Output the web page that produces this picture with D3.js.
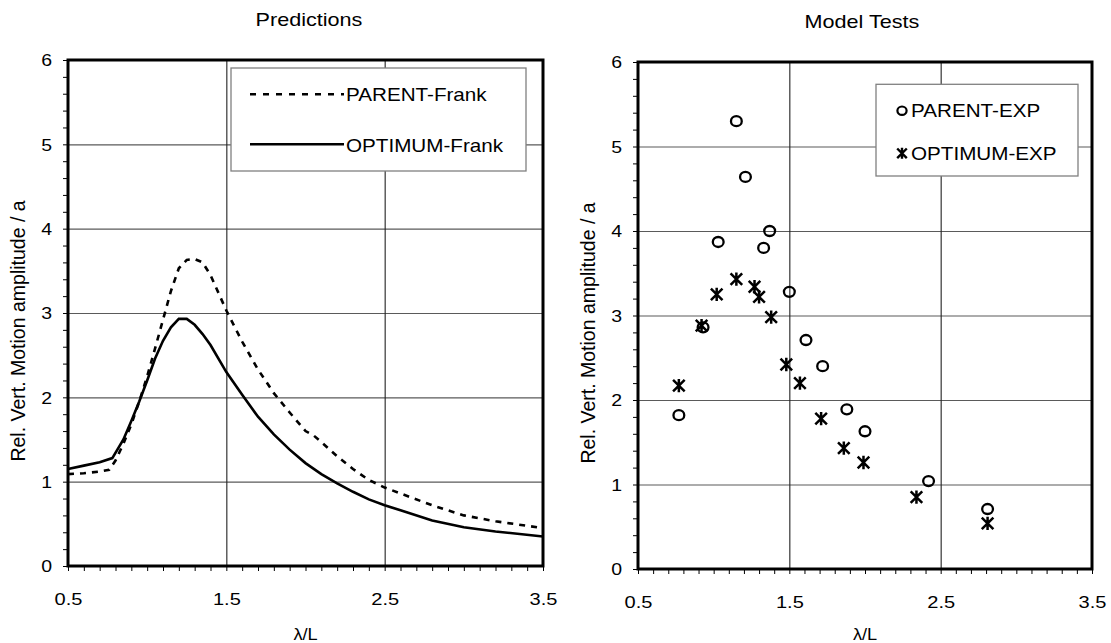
<!DOCTYPE html>
<html>
<head>
<meta charset="utf-8">
<script src="https://cdn.jsdelivr.net/npm/d3@7"></script>
<style>
  html, body { margin: 0; padding: 0; background: #fff; }
  svg { display: block; font-family: "Liberation Sans", Arial, sans-serif; }
</style>
</head>
<body>
<svg id="chart" width="1111" height="643"></svg>
<script>
// ---------- data ----------
const panelTitles = ["Predictions", "Model Tests"];
const xTickLabels = [0.5, 1.5, 2.5, 3.5];
const yTickLabels = [0, 1, 2, 3, 4, 5, 6];

const lambdaParentFrank = [0.5,0.6,0.7,0.76,0.8,0.85,0.9,0.95,1.0,1.05,1.1,1.15,1.2,1.25,1.3,1.35,1.4,1.5,1.6,1.7,1.8,1.9,2.0,2.05,2.1,2.2,2.3,2.4,2.5,2.6,2.8,3.0,3.2,3.5];
const parentFrank       = [1.09,1.10,1.12,1.14,1.25,1.45,1.68,1.95,2.25,2.58,2.92,3.26,3.53,3.63,3.64,3.60,3.45,3.03,2.66,2.33,2.05,1.82,1.60,1.55,1.47,1.30,1.15,1.02,0.93,0.86,0.72,0.60,0.53,0.45];

const lambdaOptimumFrank = [0.5,0.6,0.7,0.78,0.85,0.9,0.95,1.0,1.05,1.1,1.15,1.2,1.25,1.3,1.35,1.4,1.5,1.6,1.7,1.8,1.9,2.0,2.1,2.2,2.3,2.4,2.5,2.6,2.8,3.0,3.2,3.5];
const optimumFrank       = [1.15,1.19,1.23,1.28,1.50,1.72,1.95,2.20,2.46,2.67,2.83,2.93,2.93,2.86,2.75,2.62,2.30,2.03,1.77,1.56,1.38,1.22,1.09,0.98,0.88,0.79,0.72,0.66,0.54,0.46,0.41,0.35];

const lambdaParentExp = [0.77,0.93,1.03,1.15,1.21,1.33,1.37,1.50,1.61,1.72,1.88,2.00,2.42,2.81];
const parentExp       = [1.82,2.86,3.87,5.30,4.64,3.80,4.00,3.28,2.71,2.40,1.89,1.63,1.04,0.71];
const lambdaOptimumExp = [0.77,0.92,1.02,1.15,1.27,1.30,1.38,1.48,1.57,1.71,1.86,1.99,2.34,2.81];
const optimumExp       = [2.17,2.88,3.25,3.43,3.34,3.22,2.98,2.42,2.20,1.78,1.43,1.26,0.85,0.54];

const legendLeft  = ["PARENT-Frank", "OPTIMUM-Frank"];
const legendRight = ["PARENT-EXP", "OPTIMUM-EXP"];
const xTitle = "λ/L";
const yTitle = "Rel. Vert. Motion amplitude / a";

// ---------- layout ----------
const svg = d3.select("#chart");
const SX = 1.18; // horizontal widening of the reference lettering
const panels = [
  { x0: 68,  x1: 543,  y0: 60, y1: 566, title: panelTitles[0], titleX: 309, titleY: 26, xTitleY: 640, yTitleX: 25,  yTitleY: 331 },
  { x0: 638, x1: 1092, y0: 62, y1: 569, title: panelTitles[1], titleX: 862, titleY: 27.5, xTitleY: 640, yTitleX: 595, yTitleY: 333 }
];

const minorX = d3.range(5, 36).map(d => d / 10);
const minorY = d3.range(0, 31).map(d => d / 5);

function stext(sel, x, y, str, size, sx, anchor) {
  return sel.append("text")
    .attr("transform", `translate(${x},${y}) scale(${sx},1)`)
    .attr("font-size", size).attr("text-anchor", anchor || "start")
    .attr("fill", "#000").text(str);
}

function drawFrame(p) {
  const x = d3.scaleLinear().domain([0.5, 3.5]).range([p.x0, p.x1]);
  const y = d3.scaleLinear().domain([0, 6]).range([p.y1, p.y0]);
  const g = svg.append("g");

  // gridlines
  g.append("g").attr("transform", `translate(${p.x0},0)`)
    .call(d3.axisLeft(y).tickValues([1,2,3,4,5]).tickSize(-(p.x1 - p.x0)).tickFormat(""))
    .call(s => s.select(".domain").remove())
    .selectAll("line").attr("stroke", "#5a5a5a").attr("stroke-width", 1.2);
  g.append("g").attr("transform", `translate(0,${p.y1})`)
    .call(d3.axisBottom(x).tickValues([1.5, 2.5]).tickSize(-(p.y1 - p.y0)).tickFormat(""))
    .call(s => s.select(".domain").remove())
    .selectAll("line").attr("stroke", "#222").attr("stroke-width", 1.1);

  // minor ticks
  g.append("g").attr("transform", `translate(${p.x0},0)`)
    .call(d3.axisLeft(y).tickValues(minorY).tickSize(5).tickFormat(""))
    .call(s => s.select(".domain").remove())
    .selectAll("line").attr("stroke", "#000").attr("stroke-width", 1);
  g.append("g").attr("transform", `translate(0,${p.y1})`)
    .call(d3.axisBottom(x).tickValues(minorX).tickSize(5).tickFormat(""))
    .call(s => s.select(".domain").remove())
    .selectAll("line").attr("stroke", "#000").attr("stroke-width", 1);

  // tick labels
  const ya = g.append("g").attr("transform", `translate(${p.x0 - 16},0)`)
    .call(d3.axisLeft(y).tickValues(yTickLabels).tickSize(0).tickPadding(0).tickFormat(d3.format("d")));
  ya.select(".domain").remove();
  ya.selectAll("text").attr("x", 0).attr("dy", "0.36em").attr("transform", `scale(${SX},1)`)
    .attr("font-size", 16.5).attr("fill", "#000").attr("font-family", "Liberation Sans, Arial, sans-serif");

  const xa = g.append("g").attr("transform", `translate(0,${p.y1 + 39})`)
    .call(d3.axisBottom(x).tickValues(xTickLabels).tickSize(0).tickPadding(0).tickFormat(d3.format(".1f")));
  xa.select(".domain").remove();
  xa.selectAll("text").attr("y", 0).attr("dy", 0).attr("transform", `scale(${SX},1)`)
    .attr("font-size", 17).attr("fill", "#000").attr("font-family", "Liberation Sans, Arial, sans-serif");

  // titles
  stext(svg, p.titleX, p.titleY, p.title, 18, 1.2, "middle");
  stext(svg, (p.x0 + p.x1) / 2, p.xTitleY, xTitle, 16.5, 1.1, "middle");
  svg.append("text").attr("transform", `translate(${p.yTitleX},${p.yTitleY}) rotate(-90)`)
    .attr("text-anchor", "middle").attr("font-size", 19.5).attr("fill", "#000").text(yTitle);

  return { x, y, g };
}

function drawBorder(p) {
  svg.append("rect").attr("x", p.x0).attr("y", p.y0)
    .attr("width", p.x1 - p.x0).attr("height", p.y1 - p.y0)
    .attr("fill", "none").attr("stroke", "#000").attr("stroke-width", 3);
}

// ---------- left panel ----------
const L = panels[0];
const fl = drawFrame(L);
const line = d3.line().x(d => fl.x(d[0])).y(d => fl.y(d[1]));
fl.g.append("path")
  .datum(d3.zip(lambdaParentFrank, parentFrank))
  .attr("d", line).attr("fill", "none").attr("stroke", "#000")
  .attr("stroke-width", 2.6).attr("stroke-dasharray", "6,6");
fl.g.append("path")
  .datum(d3.zip(lambdaOptimumFrank, optimumFrank))
  .attr("d", line).attr("fill", "none").attr("stroke", "#000")
  .attr("stroke-width", 2.6);

// legend left
const lg = svg.append("g");
lg.append("rect").attr("x", 231).attr("y", 68).attr("width", 295).attr("height", 103)
  .attr("fill", "#fff").attr("stroke", "#808080").attr("stroke-width", 1.3);
[[94.3, 100.7, "6,7"], [144.3, 151.7, null]].forEach((e, i) => {
  const l = lg.append("line").attr("x1", 250).attr("x2", 344).attr("y1", e[0]).attr("y2", e[0])
    .attr("stroke", "#000").attr("stroke-width", 2.6);
  if (e[2]) l.attr("stroke-dasharray", e[2]);
  stext(lg, 346, e[1], legendLeft[i], 17.5, SX, "start");
});
drawBorder(L);

// ---------- right panel ----------
const R = panels[1];
const fr = drawFrame(R);
function starPath(s) {
  return `M${-s},${-s}L${s},${s}M${-s},${s}L${s},${-s}M0,${-s * 1.15}L0,${s * 1.15}`;
}
fr.g.selectAll("ellipse.pexp").data(d3.zip(lambdaParentExp, parentExp)).enter()
  .append("ellipse").attr("class", "pexp")
  .attr("cx", d => fr.x(d[0])).attr("cy", d => fr.y(d[1])).attr("rx", 5.4).attr("ry", 5)
  .attr("fill", "none").attr("stroke", "#000").attr("stroke-width", 2.3);
fr.g.selectAll("path.oexp").data(d3.zip(lambdaOptimumExp, optimumExp)).enter()
  .append("path").attr("class", "oexp")
  .attr("transform", d => `translate(${fr.x(d[0])},${fr.y(d[1])})`)
  .attr("d", starPath(5.8)).attr("fill", "none").attr("stroke", "#000").attr("stroke-width", 2.5);

// legend right
const rg = svg.append("g");
rg.append("rect").attr("x", 876).attr("y", 84.3).attr("width", 202).attr("height", 91.7)
  .attr("fill", "#fff").attr("stroke", "#808080").attr("stroke-width", 1.3);
rg.append("ellipse").attr("cx", 902).attr("cy", 110.7).attr("rx", 4.6).attr("ry", 4.2)
  .attr("fill", "none").attr("stroke", "#000").attr("stroke-width", 2.2);
stext(rg, 911, 116.7, legendRight[0], 17.5, SX, "start");
rg.append("path").attr("transform", "translate(902,153.3)").attr("d", starPath(4.8))
  .attr("fill", "none").attr("stroke", "#000").attr("stroke-width", 2.4);
stext(rg, 911, 160, legendRight[1], 17.5, SX, "start");
drawBorder(R);
</script>
</body>
</html>
